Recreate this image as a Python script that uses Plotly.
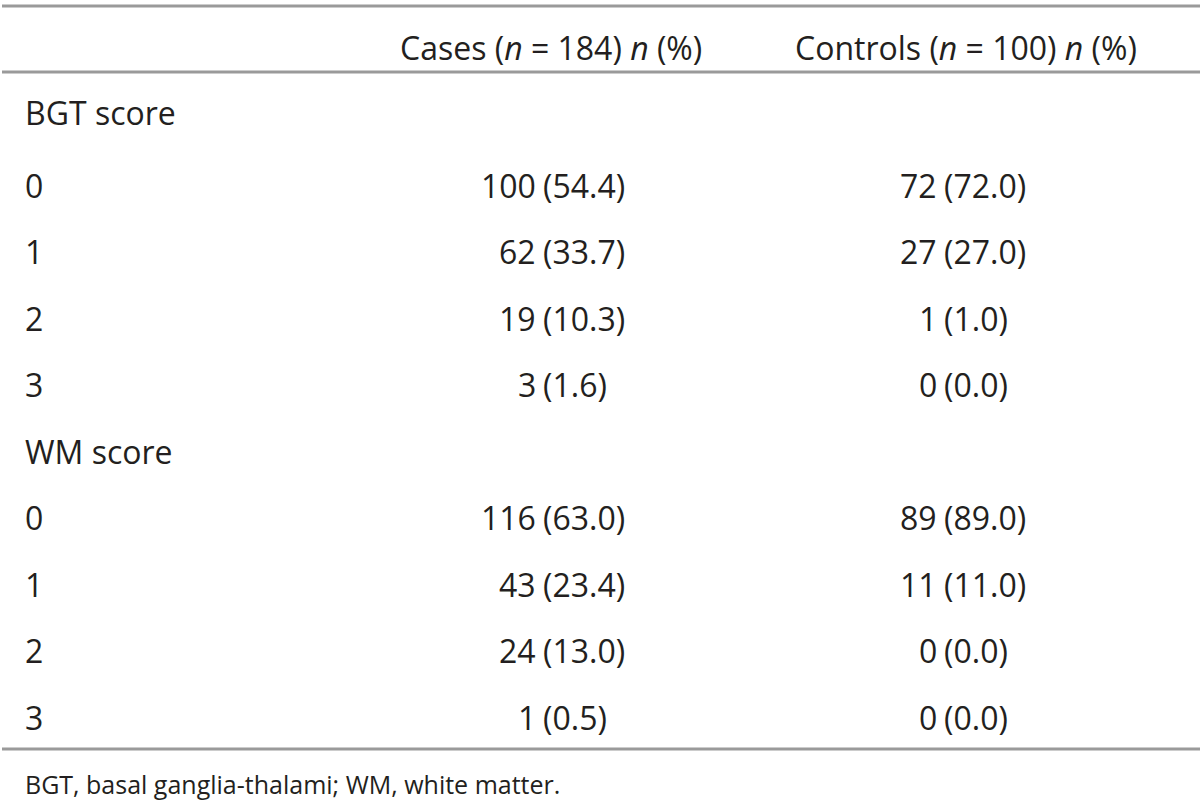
import plotly.graph_objects as go

# ---- data ----
col_headers = ["Cases (<i>n</i> = 184) <i>n</i> (%)", "Controls (<i>n</i> = 100) <i>n</i> (%)"]
sections = ["BGT score", "WM score"]
scores = ["0", "1", "2", "3"]
bgt_cases_n = [100, 62, 19, 3]
bgt_cases_pct = [54.4, 33.7, 10.3, 1.6]
bgt_ctrl_n = [72, 27, 1, 0]
bgt_ctrl_pct = [72.0, 27.0, 1.0, 0.0]
wm_cases_n = [116, 43, 24, 1]
wm_cases_pct = [63.0, 23.4, 13.0, 0.5]
wm_ctrl_n = [89, 11, 0, 0]
wm_ctrl_pct = [89.0, 11.0, 0.0, 0.0]
footnote = "BGT, basal ganglia-thalami; WM, white matter."

# ---- layout constants ----
W, H = 1200, 811
FONT = "Open Sans"
TXT = "#231f20"
LINE = "#9a9a9a"
FS = 32
label_x = 23
cases_split = 540
ctrl_split = 941
header_y = 47
row_step = 66.5
first_data_y = 185

fig = go.Figure()
fig.add_trace(go.Scatter(x=[], y=[], showlegend=False))

ann = []

def text(x, y, s, anchor="left", size=FS):
    ann.append(dict(x=x, y=y, xref="x", yref="y", text=s, showarrow=False,
                    xanchor=anchor, yanchor="middle",
                    font=dict(family=FONT, size=size, color=TXT)))

# header
text(551, header_y, col_headers[0], "center")
text(966, header_y, col_headers[1], "center")

blocks = [
    (sections[0], bgt_cases_n, bgt_cases_pct, bgt_ctrl_n, bgt_ctrl_pct),
    (sections[1], wm_cases_n, wm_cases_pct, wm_ctrl_n, wm_ctrl_pct),
]

for b, (title, cn, cp, tn, tp) in enumerate(blocks):
    base = b * 5  # 5 rows per block (title + 4 scores)
    title_y = first_data_y + (base - 1) * row_step
    if b == 0:
        title_y = 112
    text(label_x, title_y, title)
    for i, sc in enumerate(scores):
        y = first_data_y + (base + i) * row_step
        text(label_x, y, sc)
        text(cases_split - 2, y, f"{cn[i]}", "right")
        text(cases_split + 1, y, f"({cp[i]:.1f})", "left")
        text(ctrl_split - 2, y, f"{tn[i]}", "right")
        text(ctrl_split + 1, y, f"({tp[i]:.1f})", "left")

text(label_x, 784, footnote, "left", size=25)

shapes = []
for yy in [6, 72, 749]:
    shapes.append(dict(type="line", xref="x", yref="y", x0=2, x1=W, y0=yy, y1=yy,
                       line=dict(color=LINE, width=3)))

fig.update_layout(
    width=W, height=H,
    margin=dict(l=0, r=0, t=0, b=0),
    paper_bgcolor="white", plot_bgcolor="white",
    xaxis=dict(range=[0, W], visible=False, fixedrange=True),
    yaxis=dict(range=[H, 0], visible=False, fixedrange=True),
    annotations=ann, shapes=shapes, showlegend=False,
)

fig.write_html(
    "out.html",
    config={"displayModeBar": False},
    post_script="document.body.style.margin='0';document.body.style.overflow='hidden';",
)
